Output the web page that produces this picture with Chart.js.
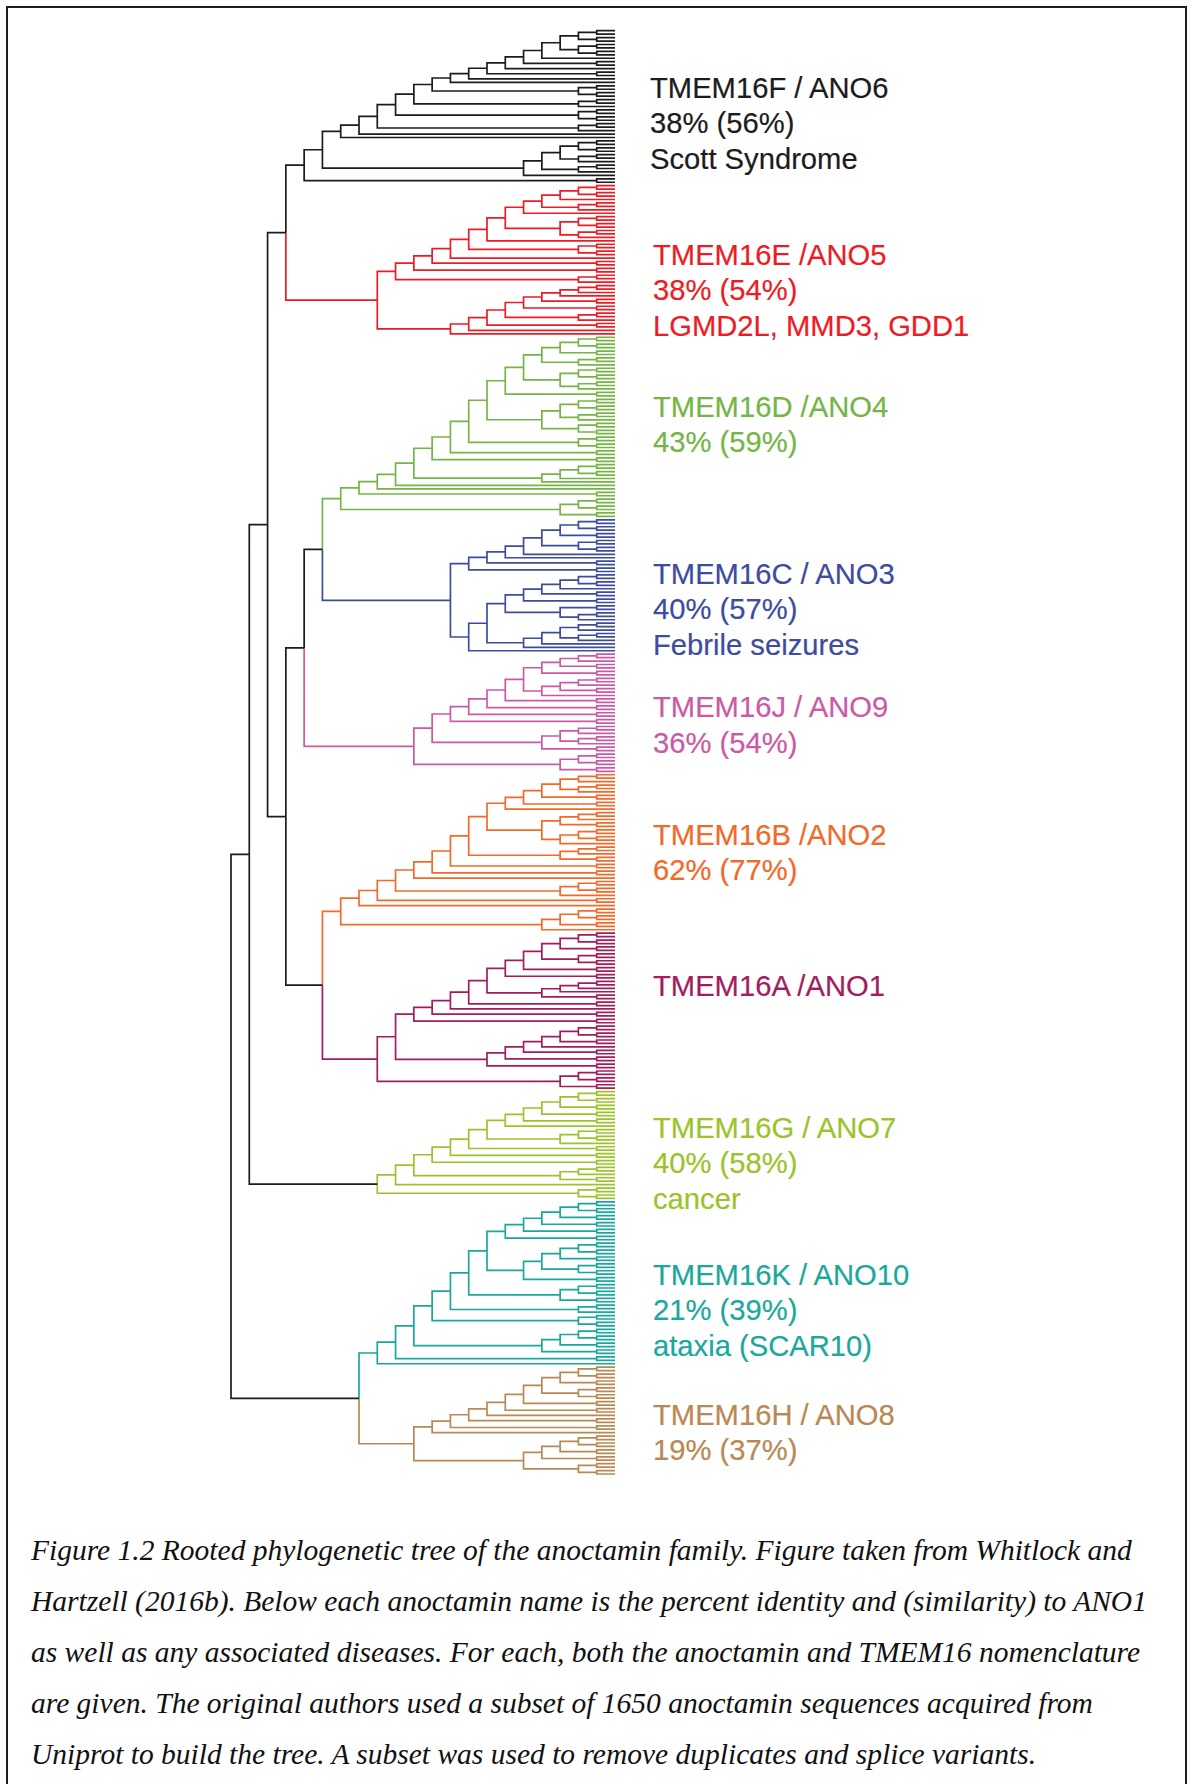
<!DOCTYPE html>
<html lang="en">
<head>
<meta charset="UTF-8">
<title>Rooted phylogenetic tree of the anoctamin family</title>
<script src="https://cdn.jsdelivr.net/npm/chart.js"></script>
<style>
    html, body { margin: 0; padding: 0; background: #fff; }
    body { width: 1192px; height: 1784px; position: relative; overflow: hidden; }
    #frame {
        position: absolute; left: 6px; top: 6px; width: 1181px; height: 1800px;
        border: 2px solid #1e1e1e; box-sizing: border-box;
    }
    #tree-box { position: absolute; left: 200px; top: 20px; width: 440px; height: 1470px; }
    .label {
        position: absolute; font-family: "Liberation Sans", Arial, sans-serif;
        font-size: 29.2px; line-height: 35.8px; white-space: pre;
        -webkit-text-stroke: 0.2px;
    }
    #caption {
        position: absolute; left: 31px; top: 1525px;
        font-family: "Liberation Serif", "Times New Roman", serif; font-style: italic;
        font-size: 29.5px; line-height: 51px; color: #111; white-space: pre;
    }
</style>
</head>
<body>
<div id="frame"></div>
<div id="tree-box"><canvas id="tree"></canvas></div>
<div id="labels"></div>
<div id="caption"></div>

<script>
// tree shapes: "." leaf, "(a,b)" pair (a above b),
// "[a;b;c]" ladder ((a,b),c) with each later branch hanging below
const cladeKeys = ['F', 'E', 'D', 'C', 'J', 'B', 'A', 'G', 'K', 'H'];
const cladeColors = ['#1c1c1c', '#ec1c24', '#74b545', '#3d4c9f', '#cb5aa6',
                     '#f26a2a', '#a21c5e', '#9cc32a', '#1aa89c', '#b98853'];
const stemColors = ['#1c1c1c', '#ec1c24', '#74b545', '#3d4c9f', '#cb5aa6',
                    '#f26a2a', '#a21c5e', '#1c1c1c', '#1aa89c', '#b98853'];
const backbone = "((((F,E),(((D,C),J),(B,A))),G),(K,H))";
const cladeShapes = [
    // F  TMEM16F / ANO6
    "[(((.,.),(.,.)),((.,.),(.,.)));.;(.,.);.;(.,.);.;.;((.,.),(.,.));((.,.),.);((.,.),(.,.));((.,.),.);.;.;[((.,.),(.,.));((.,.),.);((.,.),.);.];(.,.)]",
    // E  TMEM16E / ANO5
    "([((.,.),(.,.));.;((.,.),.);.;(((.,.),(.,.)),((.,.),.));.;((.,.),(.,.));.;(.,.);(.,.);((.,.),.)],[((.,.),.);.;(.,.);(.,.);((.,.),.);(.,.);.;.])",
    // D  TMEM16D / ANO4
    "[((.,.),(.,.));(.,.);((.,.),.);(((.,.),(.,.)),((.,.),.));(.,.);([((.,.),(.,.));((.,.),.)],((.,.),(.,.)));((.,.),(.,.));(.,.);(.,.);[(.,.);(.,.);.;.];.;.;(.,.);(((.,.),(.,.)),(.,.))]",
    // C  TMEM16C / ANO3
    "([((.,.),(.,.));(.,.);((.,.),(.,.));.;.;(.,.);(.,.)],[(([((.,.),(.,.));.;(.,.);(.,.)],((.,.),((.,.),.))),[(((.,.),.),((.,.),.));.;.]);.])",
    // J  TMEM16J / ANO9
    "[(([((.,.),.);(.,.)],(.,.)),[((.,.),.);(.,.);.]);(.,.);(.,.);(.,.);(.,.);[(((.,.),.),((.,.),.));(.,.)];(((.,.),(.,.)),(.,.))]",
    // B  TMEM16B / ANO2
    "([(((.,.),.),((.,.),.));(.,.);(.,.);.;([((.,.),.);(.,.)],[((.,.),(.,.));.]);[((.,.),.);(.,.)];(.,.);(.,.);.;[(.,.);(.,.);.];(.,.);.],[((.,.),(.,.));(.,.);.])",
    // A  TMEM16A / ANO1
    "(([((.,.),(.,.));(.,.);((.,.),(.,.));(.,.);(.,.);[((.,.),.);.;(.,.)];(.,.);.;(.,.);(.,.)],[[((.,.),(.,.));(.,.);.];(.,.);(.,.);(.,.)]),(((.,.),(.,.)),(.,.)))",
    // G  TMEM16G / ANO7
    "[((.,.),(.,.));(.,.);(.,.);(.,.);.;[((.,.),(.,.));.];(.,.);(.,.);(.,.);[((.,.),.);(.,.)];.;((.,.),(.,.))]",
    // K  TMEM16K / ANO10
    "[[((.,.),(.,.));(.,.);(.,.);(.,.);(.,.)];[([((.,.),(.,.));(.,.)],((.,.),(.,.)));(.,.)];[((.,.),(.,.));(.,.)];((.,.),.);((.,.),(.,.));[((.,.),(.,.));(.,.);(.,.)];(.,.);.]",
    // H  TMEM16H / ANO8
    "([((.,.),(.,.));(.,.);((.,.),(.,.));(.,.);(.,.);.;(.,.);(.,.);.],([((.,.),(.,.));(.,.);(.,.)],((.,.),(.,.))))"
];

const labelLines = [
    ['TMEM16F / ANO6', '38% (56%)', 'Scott Syndrome'],
    ['TMEM16E /ANO5', '38% (54%)', 'LGMD2L, MMD3, GDD1'],
    ['TMEM16D /ANO4', '43% (59%)'],
    ['TMEM16C / ANO3', '40% (57%)', 'Febrile seizures'],
    ['TMEM16J / ANO9', '36% (54%)'],
    ['TMEM16B /ANO2', '62% (77%)'],
    ['TMEM16A /ANO1'],
    ['TMEM16G / ANO7', '40% (58%)', 'cancer'],
    ['TMEM16K / ANO10', '21% (39%)', 'ataxia (SCAR10)'],
    ['TMEM16H / ANO8', '19% (37%)']
];
const captionLines = [
    'Figure 1.2 Rooted phylogenetic tree of the anoctamin family. Figure taken from Whitlock and',
    'Hartzell (2016b). Below each anoctamin name is the percent identity and (similarity) to ANO1',
    'as well as any associated diseases. For each, both the anoctamin and TMEM16 nomenclature',
    'are given. The original authors used a subset of 1650 anoctamin sequences acquired from',
    'Uniprot to build the tree. A subset was used to remove duplicates and splice variants.'
];

// label placement (page px)
const labelLeft = [650, 653, 653, 653, 653, 653, 653, 653, 653, 653];
const labelTop = [70.5, 237.5, 389.5, 556.5, 690, 817.5, 968.5, 1110.5, 1257.5, 1397.5];

// ---- parse the tree ----
function parseShape(str, color, refs) {
    let i = 0;
    function node() {
        const c = str[i];
        if (c === '.') { i++; return { kids: [], color: color }; }
        if (c === '(' || c === '[') {
            const sep = c === '(' ? ',' : ';';
            i++;
            const items = [node()];
            while (str[i] === sep) { i++; items.push(node()); }
            i++;
            if (c === '(') return { kids: items, color: color };
            let acc = items[0];
            for (let k = 1; k < items.length; k++) acc = { kids: [acc, items[k]], color: color };
            return acc;
        }
        i++;
        return refs[c]();
    }
    return node();
}

const refs = {};
cladeKeys.forEach((k, n) => {
    refs[k] = () => {
        const t = parseShape(cladeShapes[n], cladeColors[n], {});
        t.stem = stemColors[n];
        return t;
    };
});
const root = parseShape(backbone, '#1c1c1c', refs);

let leafCount = 0;
function layout(nd) {
    if (!nd.kids.length) { nd.h = 0; nd.y = leafCount++; return; }
    nd.kids.forEach(layout);
    nd.h = 1 + Math.max(...nd.kids.map(k => k.h));
    nd.y = (nd.kids[0].y + nd.kids[nd.kids.length - 1].y) / 2;
}
layout(root);

const byColor = {};
function collect(nd) {
    nd.kids.forEach(k => {
        const col = k.stem || k.color;
        (byColor[col] = byColor[col] || []).push(
            { x: nd.h, y: nd.y }, { x: nd.h, y: k.y }, { x: k.h, y: k.y }, { x: k.h, y: null });
        collect(k);
    });
}
collect(root);

// map tips to x=615, root to x=231 ; first leaf y=30.7, last leaf y=1474
const W = 440, H = 1470;
const xRange = root.h * W / 384;
const xMin = -25 / W * xRange;
const yRange = (leafCount - 1) * H / 1443.3;
const yMin = -10.7 / H * yRange;

const datasets = Object.keys(byColor).map(col => ({
    data: byColor[col],
    showLine: true,
    borderColor: col,
    borderWidth: 1.7,
    pointRadius: 0,
    spanGaps: false,
    borderJoinStyle: 'miter',
    borderCapStyle: 'butt',
    clip: false
}));

new Chart(document.getElementById('tree'), {
    type: 'scatter',
    data: { datasets: datasets },
    options: {
        responsive: true,
        maintainAspectRatio: false,
        animation: false,
        events: [],
        layout: { padding: 0 },
        plugins: { legend: { display: false }, tooltip: { enabled: false } },
        scales: {
            x: { type: 'linear', display: false, reverse: true, min: xMin, max: xMin + xRange },
            y: { type: 'linear', display: false, reverse: true, min: yMin, max: yMin + yRange }
        }
    }
});

// ---- texts ----
const labelsDiv = document.getElementById('labels');
labelLines.forEach((lines, n) => {
    const d = document.createElement('div');
    d.className = 'label';
    d.style.left = labelLeft[n] + 'px';
    d.style.top = labelTop[n] + 'px';
    d.style.color = cladeColors[n];
    d.textContent = lines.join('\n');
    labelsDiv.appendChild(d);
});
document.getElementById('caption').textContent = captionLines.join('\n');
</script>
</body>
</html>
